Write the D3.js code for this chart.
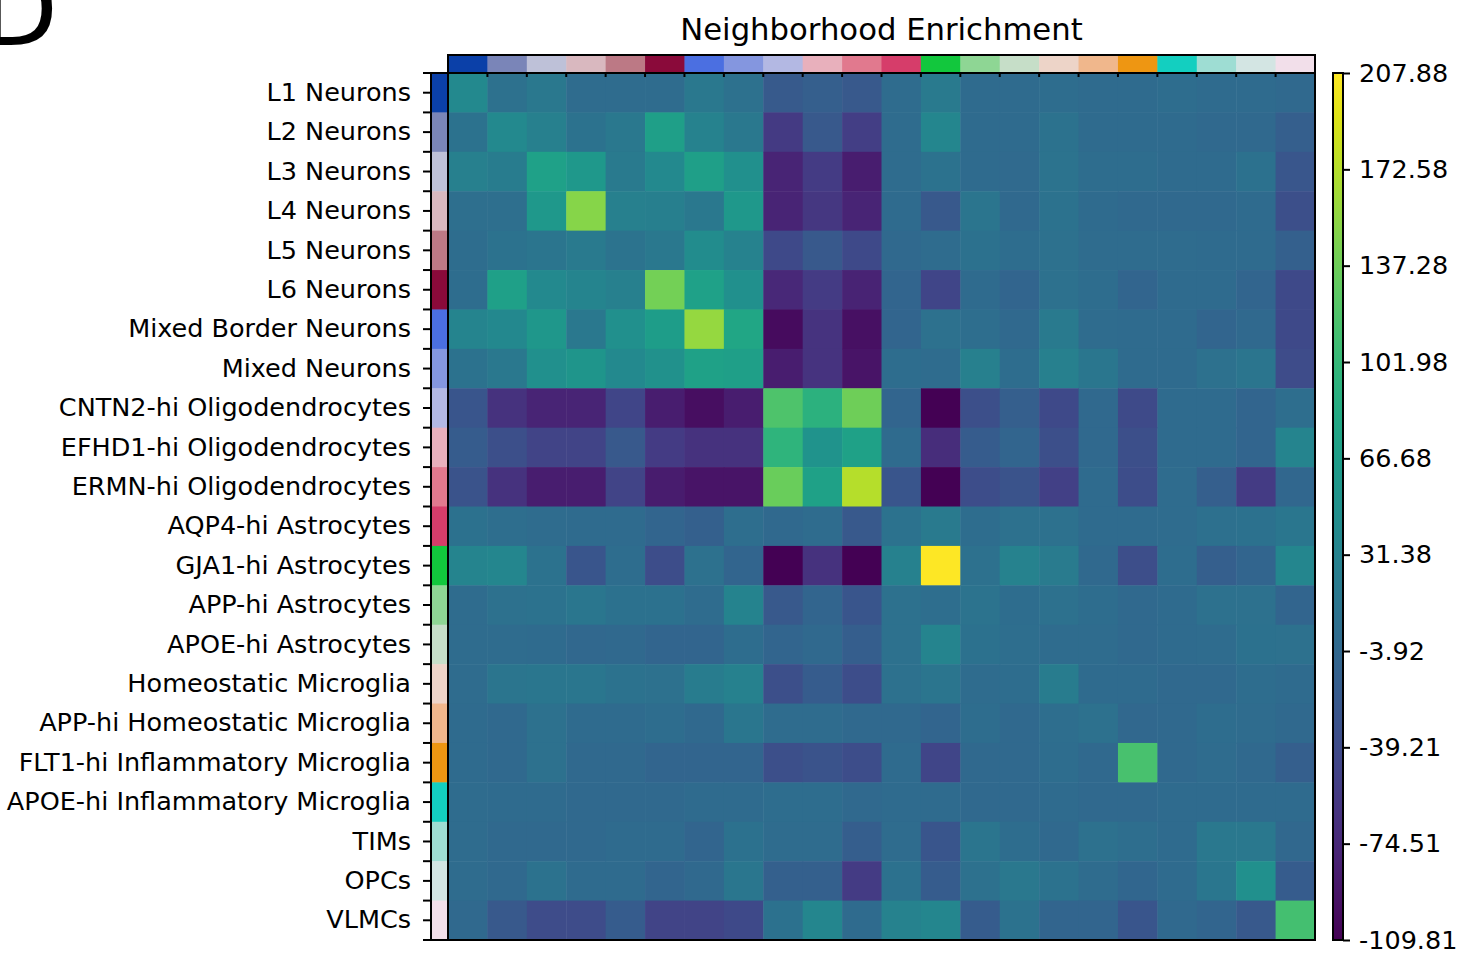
<!DOCTYPE html>
<html>
<head>
<meta charset="utf-8">
<script src="https://cdn.jsdelivr.net/npm/d3@7"></script>
<style>
  body { margin: 0; background: #fff; }
  text { font-family: "DejaVu Sans", sans-serif; fill: #000; }
</style>
</head>
<body>
<script>
var WIDTH = 1463,
    HEIGHT = 954;

// cell types, same order on both axes
var cats = [
  "L1 Neurons", "L2 Neurons", "L3 Neurons", "L4 Neurons", "L5 Neurons", "L6 Neurons",
  "Mixed Border Neurons", "Mixed Neurons", "CNTN2-hi Oligodendrocytes",
  "EFHD1-hi Oligodendrocytes", "ERMN-hi Oligodendrocytes", "AQP4-hi Astrocytes",
  "GJA1-hi Astrocytes", "APP-hi Astrocytes", "APOE-hi Astrocytes",
  "Homeostatic Microglia", "APP-hi Homeostatic Microglia", "FLT1-hi Inflammatory Microglia",
  "APOE-hi Inflammatory Microglia", "TIMs", "OPCs", "VLMCs"
];

var catColors = [
  "#0b40a8", "#7a85b8", "#bec1d8", "#d9b8bf", "#bc7985", "#8a0a3a",
  "#4b6fe1", "#8496df", "#b3b8e3", "#e8b0bc", "#e1798e", "#d63d6a",
  "#12c73d", "#8ed694", "#c6dec8", "#edd4c8", "#f0b78c", "#ee9612",
  "#13cfc0", "#9eddd3", "#d3e5e3", "#f2dfea"
];

// enrichment z-scores, row = cats[i], column = cats[j]
var values = [
  [40, 8, 17, 1, 1, 1, 17, 8, -21, -15, -22, 1, 20, 0, 0, 2, 0, 0, 2, 0, 0, -2],
  [10, 40, 27, 10, 17, 68, 30, 17, -56, -22, -52, 1, 36, 0, 0, 10, 0, 0, 0, -3, -3, -15],
  [27, 22, 71, 59, 20, 40, 68, 49, -78, -55, -84, 1, 10, 0, -1, 11, 2, 2, 0, 0, 9, -25],
  [5, 5, 59, 150, 27, 26, 17, 59, -78, -60, -78, 0, -22, 14, -3, 10, 0, -2, -2, -2, 0, -33],
  [2, 10, 14, 20, 11, 18, 43, 30, -40, -22, -40, -3, 1, 9, 2, 7, 1, 1, 1, 0, 0, -14],
  [3, 69, 40, 34, 27, 140, 71, 49, -75, -55, -80, -8, -45, 0, -7, 7, 3, -7, 0, 0, -7, -40],
  [34, 38, 58, 17, 48, 66, 157, 78, -100, -63, -97, -8, 7, 4, -3, 20, 1, 0, 0, -7, -3, -40],
  [10, 17, 48, 56, 40, 50, 72, 68, -84, -63, -93, 3, 1, 27, 2, 27, 15, 0, 0, 7, 14, -37],
  [-26, -65, -78, -78, -45, -84, -98, -84, 119, 93, 138, -7, -109.81, -33, -15, -40, -3, -38, 0, 0, -7, 4],
  [-18, -33, -46, -46, -22, -55, -65, -64, 97, 53, 72, 0, -70, -18, -8, -33, -3, -33, 0, 0, -7, 34],
  [-28, -65, -84, -84, -46, -86, -93, -93, 135, 72, 172, -26, -109.81, -36, -28, -50, 0, -36, 1, -15, -55, -5],
  [9, 4, 1, 0, 0, -8, -14, 4, -2, 1, -22, 10, 20, 3, 7, 7, 0, 0, 1, 6, 9, 15],
  [34, 36, 10, -26, 3, -36, 8, -8, -109.81, -65, -109.81, 28, 207.88, 7, 30, 21, -3, -35, 3, -15, -8, 36],
  [1, 7, 10, 15, 9, 9, 1, 32, -22, -8, -26, 7, 4, 11, 3, 8, 3, -2, 0, 7, 7, -8],
  [1, 1, 0, -4, -2, -7, -8, 3, -8, -3, -16, 7, 33, 9, 4, 1, 1, -2, 0, 1, 9, 7],
  [1, 14, 15, 15, 10, 7, 22, 28, -33, -18, -36, 7, 14, 1, 3, 22, 0, 0, -2, -2, 3, 0],
  [0, -2, 7, 0, 0, 3, -2, 15, 1, 1, -3, -2, -7, 3, -2, 4, 8, -4, -3, 3, 1, -3],
  [0, -3, 7, -2, -2, -8, -7, -7, -33, -28, -36, 0, -45, -3, -3, 3, -3, 116, -3, 1, -2, -15],
  [1, 0, 0, -2, -2, -2, 0, 0, 3, 3, -2, 0, 0, -2, -2, 0, -3, -3, 0, 0, 0, 0],
  [1, -2, -2, -2, 0, 0, -7, 9, 1, 1, -16, 1, -26, 14, 3, -2, 8, 4, 0, 17, 17, -4],
  [1, -2, 10, 0, 0, -8, -3, 15, -14, -14, -55, 9, -18, 7, 17, 10, 1, -6, 0, 15, 48, -18],
  [-2, -22, -37, -37, -18, -46, -46, -40, 9, 36, 0, 30, 36, -18, 10, -7, -8, -26, -2, -8, -22, 113]
];

var cbarTicks = [-109.81, -74.51, -39.21, -3.92, 31.38, 66.68, 101.98, 137.28, 172.58, 207.88];
var vmin = -109.81, vmax = 207.88;

var X0 = 448, X1 = 1315, Y0 = 73, Y1 = 940;

var svg = d3.select("body").append("svg")
      .attr("width", WIDTH)
      .attr("height", HEIGHT);

var x = d3.scaleBand().domain(cats).range([X0, X1]),
    y = d3.scaleBand().domain(cats).range([Y0, Y1]),
    color = d3.scaleSequential(d3.interpolateViridis).domain([vmin, vmax]);

var cells = d3.merge(values.map(function(row, i) {
  return row.map(function(v, j) { return {row: cats[i], col: cats[j], v: v}; });
}));

// heatmap cells
svg.append("g").selectAll("rect").data(cells)
  .enter().append("rect")
  .attr("x", function(d) { return x(d.col); })
  .attr("y", function(d) { return y(d.row); })
  .attr("width", x.bandwidth() + 0.5)
  .attr("height", y.bandwidth() + 0.5)
  .attr("fill", function(d) { return color(d.v); });

// category colour strips
svg.append("g").selectAll("rect").data(cats)
  .enter().append("rect")
  .attr("x", function(d) { return x(d); })
  .attr("y", 55)
  .attr("width", x.bandwidth() + 0.5)
  .attr("height", Y0 - 55)
  .attr("fill", function(d, i) { return catColors[i]; });

svg.append("g").selectAll("rect").data(cats)
  .enter().append("rect")
  .attr("x", 431)
  .attr("y", function(d) { return y(d); })
  .attr("width", X0 - 431)
  .attr("height", y.bandwidth() + 0.5)
  .attr("fill", function(d, i) { return catColors[i]; });

// frames
var frames = [[X0, Y0, X1 - X0, Y1 - Y0], [X0, 55, X1 - X0, Y0 - 55], [431, Y0, X0 - 431, Y1 - Y0]];
svg.append("g").selectAll("rect").data(frames)
  .enter().append("rect")
  .attr("x", function(d) { return d[0]; })
  .attr("y", function(d) { return d[1]; })
  .attr("width", function(d) { return d[2]; })
  .attr("height", function(d) { return d[3]; })
  .attr("fill", "none")
  .attr("stroke", "#000")
  .attr("stroke-width", 2);

// row labels
var yAxis = svg.append("g")
  .attr("transform", "translate(431,0)")
  .call(d3.axisLeft(y).tickSize(8).tickPadding(12));
yAxis.select(".domain").remove();
yAxis.selectAll("line").attr("stroke-width", 2);
yAxis.selectAll("text")
  .style("font-family", "DejaVu Sans")
  .style("font-size", "25.5px");

// boundary ticks on the left strip and under the top strip
var bounds = d3.range(cats.length + 1);
svg.append("g").selectAll("line").data(bounds)
  .enter().append("line")
  .attr("x1", 423).attr("x2", 431)
  .attr("y1", function(i) { return Y0 + i * y.step(); })
  .attr("y2", function(i) { return Y0 + i * y.step(); })
  .attr("stroke", "#000").attr("stroke-width", 2);

svg.append("g").selectAll("line").data(bounds)
  .enter().append("line")
  .attr("y1", Y0).attr("y2", Y0 + 4)
  .attr("x1", function(i) { return X0 + i * x.step(); })
  .attr("x2", function(i) { return X0 + i * x.step(); })
  .attr("stroke", "#000").attr("stroke-width", 2);

// title and panel letter
svg.append("text")
  .attr("x", (X0 + X1) / 2)
  .attr("y", 40)
  .attr("text-anchor", "middle")
  .style("font-size", "30.7px")
  .text("Neighborhood Enrichment");

svg.append("text")
  .attr("x", -19)
  .attr("y", 45)
  .style("font-size", "100px")
  .text("D");

// colour bar
var grad = svg.append("defs").append("linearGradient")
  .attr("id", "viridis")
  .attr("x1", 0).attr("y1", 1).attr("x2", 0).attr("y2", 0);
grad.selectAll("stop").data(d3.range(0, 1.001, 0.05))
  .enter().append("stop")
  .attr("offset", function(t) { return t; })
  .attr("stop-color", function(t) { return d3.interpolateViridis(t); });

var CB0 = 1333, CBW = 10;
svg.append("rect")
  .attr("x", CB0).attr("y", Y0)
  .attr("width", CBW).attr("height", Y1 - Y0)
  .attr("fill", "url(#viridis)")
  .attr("stroke", "#000")
  .attr("stroke-width", 2);

var cbScale = d3.scaleLinear().domain([vmin, vmax]).range([Y1, Y0]);
var cbAxis = svg.append("g")
  .attr("transform", "translate(" + (CB0 + CBW) + ",0)")
  .call(d3.axisRight(cbScale).tickValues(cbarTicks)
    .tickFormat(function(d) { return d.toFixed(2); })
    .tickSize(7).tickPadding(9));
cbAxis.select(".domain").remove();
cbAxis.selectAll("line").attr("stroke-width", 2);
cbAxis.selectAll("text")
  .style("font-family", "DejaVu Sans")
  .style("font-size", "25.5px");
</script>
</body>
</html>
